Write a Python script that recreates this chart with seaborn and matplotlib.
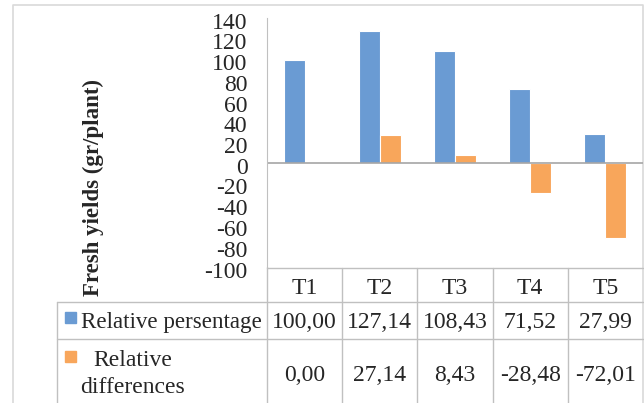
import pandas as pd
import seaborn as sns
import matplotlib.pyplot as plt
from matplotlib.transforms import blended_transform_factory, ScaledTranslation

# Chart values
treatments = ['T1', 'T2', 'T3', 'T4', 'T5']
relative_percentage = [100.00, 127.14, 108.43, 71.52, 27.99]
relative_differences = [0.00, 27.14, 8.43, -28.48, -72.01]
series_names = ['Relative persentage', 'Relative differences']
y_ticks = list(range(-100, 141, 20))

blue = '#6a9bd3'
orange = '#f8a65b'
line_grey = '#c0c0c0'

df = pd.DataFrame({
    'Treatment': treatments * 2,
    'Value': relative_percentage + relative_differences,
    'Series': [series_names[0]] * 5 + [series_names[1]] * 5,
})

sns.set_style('white')
plt.rcParams['font.family'] = ['Liberation Serif', 'DejaVu Serif']

W, H = 644, 403
fs = 17
fig = plt.figure(figsize=(W / 100, H / 100), dpi=100)

# background overlay in pixel coordinates (for borders and the data table)
bg = fig.add_axes([0, 0, 1, 1])
bg.set_xlim(0, W)
bg.set_ylim(H, 0)
bg.axis('off')

# plot area
ax = fig.add_axes([267 / W, 1 - 267 / H, (643 - 267) / W, (267 - 18) / H])
sns.barplot(data=df, x='Treatment', y='Value', hue='Series',
            palette=[blue, orange], saturation=1, width=0.56, gap=0,
            edgecolor='white', linewidth=0.8, legend=False, ax=ax)
ax.set_ylim(-100, 140)
ax.set_yticks(y_ticks)
ax.set_yticklabels([str(t) for t in y_ticks], fontsize=fs)
ax.tick_params(axis='y', length=0, pad=14)
ax.tick_params(axis='x', length=0, labelbottom=False)
shift = ScaledTranslation(0, -2.5 / 100, fig.dpi_scale_trans)
for lab in ax.get_yticklabels():
    lab.set_transform(lab.get_transform() + shift)
ax.set_xlabel('')
ax.set_ylabel('')
for s in ['top', 'right', 'bottom']:
    ax.spines[s].set_visible(False)
ax.spines['left'].set_color(line_grey)
ax.axhline(0, color='#a6a6a6', linewidth=1.2)
ax.set_facecolor('none')

fig.text(93 / W, 1 - 188 / H, 'Fresh yields (gr/plant)', rotation=90,
         fontsize=16.5, fontweight='bold', ha='center', va='center')

# outer chart border
bg.plot([13, 13, 643, 643], [H, 5, 5, H], color='#d9d9d9', linewidth=1.2)

# data table below the plot
bg.plot([267, 643], [268, 268], color=line_grey, linewidth=1)
bg.plot([57, 643], [302, 302], color=line_grey, linewidth=1)
bg.plot([57, 643], [339, 339], color=line_grey, linewidth=1)
bg.plot([57, 57], [302, H], color=line_grey, linewidth=1)
bg.plot([267, 267], [267, H], color=line_grey, linewidth=1)

tr = blended_transform_factory(ax.transData, bg.transData)
for i in range(len(treatments) - 1):
    bg.plot([i + 0.5, i + 0.5], [268, H], color=line_grey, linewidth=1,
            transform=tr)

for i, t in enumerate(treatments):
    bg.text(i, 294, t, transform=tr, ha='center', va='baseline', fontsize=fs)
    bg.text(i, 328, f'{relative_percentage[i]:.2f}'.replace('.', ','),
            transform=tr, ha='center', va='baseline', fontsize=fs)
    bg.text(i, 381, f'{relative_differences[i]:.2f}'.replace('.', ','),
            transform=tr, ha='center', va='baseline', fontsize=fs)

# legend keys and row labels
bg.add_patch(plt.Rectangle((65, 312), 11, 11, color=blue))
bg.add_patch(plt.Rectangle((65, 351), 11, 11, color=orange))
bg.text(81, 328, series_names[0], ha='left', va='baseline', fontsize=16.6)
bg.text(133, 366, 'Relative', ha='center', va='baseline', fontsize=fs)
bg.text(133, 393, 'differences', ha='center', va='baseline', fontsize=fs)

fig.savefig('out.png', dpi=100)
